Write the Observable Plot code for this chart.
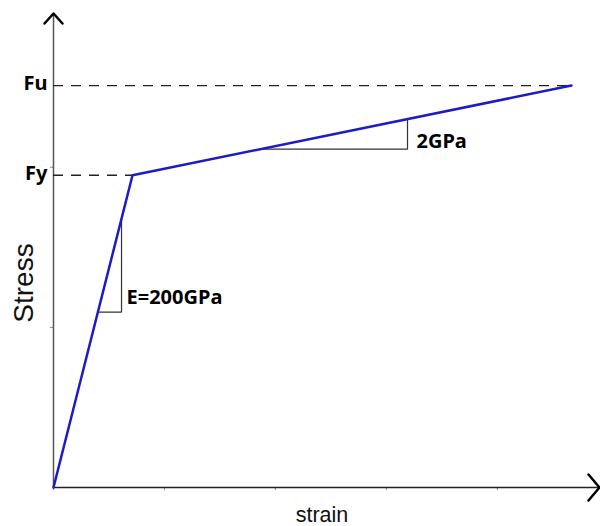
<!DOCTYPE html>
<html>
<head>
<meta charset="utf-8">
<script src="https://cdn.jsdelivr.net/npm/d3@7"></script>
<script src="https://cdn.jsdelivr.net/npm/@observablehq/plot@0.6"></script>
<style>
  body { margin: 0; background: #fff; }
  #chart svg { display: block; overflow: visible; }
</style>
</head>
<body>
<div id="chart"></div>
<script>
// Stress-strain curve (bilinear)
const strain = [0, 0.712, 4.667];
const stress = [0, 1.95, 2.51];

// Named stress levels
const levelNames = ["Fy", "Fu"];
const levelStress = [1.95, 2.51];
const levelStrain = [0.712, 4.667];

// Tick positions
const xTicks = [0, 1, 2, 3, 4];
const yTicks = [1, 2];

// Slope triangles
const slopeNames = ["E=200GPa", "2GPa"];
const slopeFrom = [0.40, 1.865];
const slopeTo = [0.613, 3.19];

// Axis extents (arrow tips)
const xMax = 4.92;
const yMax = 2.96;

const curve = strain.map((x, i) => ({x, y: stress[i]}));
const levels = levelNames.map((name, i) => ({name, y: levelStress[i], x: levelStrain[i]}));

// point on the polyline at a given strain
function stressAt(x) {
  for (let i = 1; i < strain.length; i++) {
    if (x <= strain[i]) {
      const t = (x - strain[i - 1]) / (strain[i] - strain[i - 1]);
      return stress[i - 1] + t * (stress[i] - stress[i - 1]);
    }
  }
  return stress[stress.length - 1];
}

const triangles = slopeNames.map((name, i) => {
  const a = slopeFrom[i], b = slopeTo[i];
  return {name, i, pts: [
    {x: a, y: stressAt(a)},
    {x: b, y: stressAt(a)},
    {x: b, y: stressAt(b)}
  ]};
});

const chevronY = {draw(c) { c.moveTo(-9, 10); c.lineTo(0, 0); c.lineTo(9, 10); }};
const chevronX = {draw(c) { c.moveTo(-13, 11); c.lineTo(0, 0); c.lineTo(13, 11); }};

const labelFont = "'Noto Sans', 'Open Sans', sans-serif";
const axisFont = "'Liberation Sans', Arial, sans-serif";
const slopeOffsets = [{dx: 5, dy: -14}, {dx: 9, dy: -7}];

const chart = Plot.plot({
  width: 600,
  height: 526,
  marginLeft: 53,
  marginRight: 1,
  marginTop: 13,
  marginBottom: 39,
  x: {domain: [0, xMax]},
  y: {domain: [0, yMax]},
  style: {background: "#fff", overflow: "visible"},
  marks: [
    // ticks
    Plot.axisX(xTicks, {tickSize: 3, tickFormat: () => "", label: null, stroke: "#888", strokeWidth: 1}),
    Plot.axisY(yTicks, {tickSize: 3, tickFormat: () => "", label: null, stroke: "#888", strokeWidth: 1}),
    // axis shafts
    Plot.ruleX([0], {y1: 0, y2: yMax, stroke: "#555", strokeWidth: 1.5}),
    Plot.ruleY([0], {x1: 0, x2: xMax, stroke: "#222", strokeWidth: 1.5}),
    // dashed levels
    Plot.ruleY(levels, {y: "y", x1: 0, x2: "x", stroke: "#222", strokeWidth: 1.3, strokeDasharray: "10,8"}),
    // slope triangles
    ...triangles.map(t => Plot.line(t.pts, {x: "x", y: "y", stroke: "#333", strokeWidth: 1.2, strokeLinejoin: "miter", strokeLinecap: "butt"})),
    // curve
    Plot.line(curve, {x: "x", y: "y", stroke: "#1c1cc4", strokeWidth: 2.5}),
    // arrowheads
    Plot.vector([0], {x: 0, y: yMax, rotate: 0, length: 10, anchor: "start", shape: chevronY, stroke: "#000", strokeWidth: 2.5}),
    Plot.vector([0], {x: xMax, y: 0, rotate: 90, length: 10, anchor: "start", shape: chevronX, stroke: "#000", strokeWidth: 2.5}),
    // level labels
    Plot.text(levels, {x: 0, y: "y", text: "name", textAnchor: "end", dx: -6, dy: -1.5, fontSize: 20, fontWeight: "bold", fontFamily: labelFont, fill: "#000"}),
    // slope labels
    ...triangles.map(t => Plot.text([t], {x: t.pts[1].x, y: t.pts[1].y, text: "name", textAnchor: "start", dx: slopeOffsets[t.i].dx, dy: slopeOffsets[t.i].dy, fontSize: 20, fontWeight: "bold", fontFamily: labelFont, fill: "#000"})),
    // axis titles
    Plot.text(["Stress"], {x: 0, y: 1.277, text: d => d, rotate: -90, dx: -29, fontSize: 28, fontFamily: axisFont, fill: "#111"}),
    Plot.text(["strain"], {x: 2.419, y: 0, text: d => d, dy: 28, fontSize: 21.5, fontFamily: axisFont, fill: "#111"})
  ]
});

document.getElementById("chart").appendChild(chart);
</script>
</body>
</html>
